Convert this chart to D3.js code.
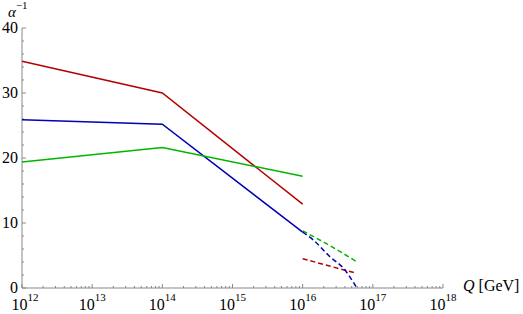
<!DOCTYPE html>
<html>
<head>
<meta charset="utf-8">
<script src="https://cdn.jsdelivr.net/npm/d3@7"></script>
<style>
  body { margin: 0; background: #fff; }
  text { font-family: "Liberation Serif", "DejaVu Serif", serif; fill: #000; }
</style>
</head>
<body>
<div id="chart"></div>
<script>
// log10(Q/GeV) and alpha^-1
var solidQ = [12, 14, 16];
var redSolid = [34.9, 30.0, 12.9];
var blueSolid = [25.9, 25.2, 8.6];
var greenSolid = [19.4, 21.6, 17.2];

var greenDashQ = [16, 16.39, 16.77];
var greenDash = [8.8, 6.5, 4.05];
var redDashQ = [16, 16.77];
var redDash = [4.5, 2.25];
var blueDashQ = [16, 16.15, 16.39, 16.6, 16.67, 16.73, 16.77];
var blueDash = [8.6, 7.4, 4.8, 2.8, 1.75, 0.75, 0];

var xDecades = [12, 13, 14, 15, 16, 17, 18];
var yTicks = [0, 10, 20, 30, 40];

var w = 523, h = 314;
var svg = d3.select("#chart").append("svg")
  .attr("width", w)
  .attr("height", h);

var x = d3.scaleLog().domain([1e12, 1e18]).range([22, 443]);
var y = d3.scaleLinear().domain([0, 40]).range([288, 28]);

var axisColor = "#888";

// axes lines
svg.append("line")
  .attr("x1", x(1e12)).attr("x2", x(1e18))
  .attr("y1", y(0)).attr("y2", y(0))
  .attr("stroke", axisColor).attr("stroke-width", 1);
svg.append("line")
  .attr("x1", x(1e12)).attr("x2", x(1e12))
  .attr("y1", y(0)).attr("y2", y(40))
  .attr("stroke", axisColor).attr("stroke-width", 1);

// x ticks (major + minor) and 10^n labels
xDecades.forEach(function (d) {
  svg.append("line")
    .attr("x1", x(Math.pow(10, d))).attr("x2", x(Math.pow(10, d)))
    .attr("y1", y(0)).attr("y2", y(0) - 4)
    .attr("stroke", axisColor);
  if (d < 18) {
    d3.range(2, 10).forEach(function (m) {
      var v = m * Math.pow(10, d);
      svg.append("line")
        .attr("x1", x(v)).attr("x2", x(v))
        .attr("y1", y(0)).attr("y2", y(0) - 2)
        .attr("stroke", axisColor);
    });
  }
  var t = svg.append("text")
    .attr("x", x(Math.pow(10, d)) + (d === 12 ? 3 : 0))
    .attr("y", 310)
    .attr("text-anchor", "middle")
    .style("font-size", "16px");
  t.append("tspan").text("10");
  t.append("tspan").attr("dy", -9).style("font-size", "11px").text(d);
});

// y ticks
d3.range(0, 41, 2).forEach(function (v) {
  var major = v % 10 === 0;
  svg.append("line")
    .attr("x1", x(1e12)).attr("x2", x(1e12) + (major ? 4 : 2))
    .attr("y1", y(v)).attr("y2", y(v))
    .attr("stroke", axisColor);
});
svg.selectAll(".ylab")
  .data(yTicks)
  .enter().append("text")
  .attr("class", "ylab")
  .attr("x", 18)
  .attr("y", function (d) { return y(d) + 5; })
  .attr("text-anchor", "end")
  .style("font-size", "16px")
  .text(function (d) { return d; });

// axis labels
var al = svg.append("text").attr("x", 8).attr("y", 17).style("font-size", "15px");
al.append("tspan").style("font-style", "italic").text("α");
al.append("tspan").attr("dy", -8).style("font-size", "11px").text("−1");

var ql = svg.append("text").attr("x", 463).attr("y", 291).style("font-size", "16px");
ql.append("tspan").style("font-style", "italic").text("Q");
ql.append("tspan").text(" [GeV]");

function draw(qs, vals, color, dashed, curved) {
  var pts = qs.map(function (q, i) { return [q, vals[i]]; });
  var l = d3.line()
    .x(function (d) { return x(Math.pow(10, d[0])); })
    .y(function (d) { return y(d[1]); });
  if (curved) l.curve(d3.curveMonotoneX);
  svg.append("path")
    .attr("d", l(pts))
    .attr("fill", "none")
    .attr("stroke", color)
    .attr("stroke-width", 1.5)
    .attr("stroke-dasharray", dashed ? "5,3" : null);
}

var red = "#b40000", blue = "#0000b4", green = "#00b400";

draw(solidQ, redSolid, red, false, false);
draw(solidQ, blueSolid, blue, false, false);
draw(solidQ, greenSolid, green, false, false);
draw(greenDashQ, greenDash, green, true, true);
draw(redDashQ, redDash, red, true, false);
draw(blueDashQ, blueDash, blue, true, true);
</script>
</body>
</html>
